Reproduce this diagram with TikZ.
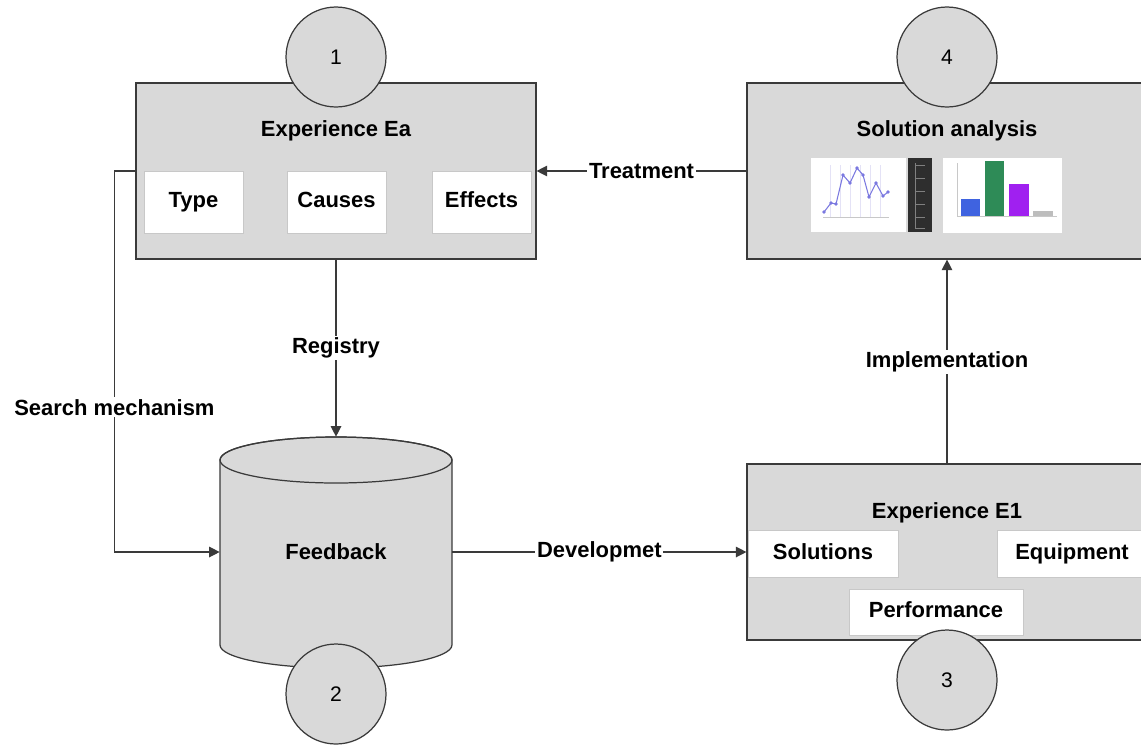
\documentclass[tikz,border=0pt]{standalone}
\usepackage{fontspec}
\setmainfont{Liberation Sans}
\usetikzlibrary{arrows.meta}
\definecolor{BoxGray}{HTML}{D9D9D9}
\definecolor{Outline}{HTML}{3A3A3A}
\definecolor{ItemEdge}{HTML}{C8C8C8}
\definecolor{PlotLine}{HTML}{7A78E0}
\definecolor{PlotGrid}{HTML}{E4E2F6}
\definecolor{Strip}{HTML}{2E2E2E}
\definecolor{BarBlue}{HTML}{3F63E0}
\definecolor{BarGreen}{HTML}{2E8B57}
\definecolor{BarPurple}{HTML}{A020F0}
\definecolor{BarGray}{HTML}{BDBDBD}

\begin{document}
\begin{tikzpicture}[
    x=0.02cm, y=-0.02cm,
    expbox/.style={rectangle, draw=Outline, fill=BoxGray, line width=0.7pt, minimum width=8cm, minimum height=3.52cm},
    itembox/.style={rectangle, draw=ItemEdge, fill=white, line width=0.3pt, text height=9pt, text depth=2.5pt, font=\fontsize{12.5}{15}\selectfont\bfseries},
    boxtitle/.style={font=\fontsize{12.5}{15}\selectfont\bfseries},
    stepnum/.style={circle, draw=Outline, fill=BoxGray, line width=0.7pt, minimum size=2cm, inner sep=0pt, font=\fontsize{12}{14}\selectfont},
    flow/.style={draw=Outline, line width=0.7pt, -{Triangle[length=6pt,width=6pt]}},
    flowlabel/.style={fill=white, inner sep=1pt, font=\fontsize{12.5}{15}\selectfont\bfseries}
]

\clip (0,0) rectangle (1141,744);
\fill[white] (0,0) rectangle (1141,744);

% stage boxes
\node[expbox] (ea) at (336,171) {};
\node[expbox] (sa) at (947,171) {};
\node[expbox] (e1) at (947,552) {};

\node[boxtitle] (eatitle) at (336,131) {Experience Ea};
\node[boxtitle] (satitle) at (947,131) {Solution analysis};
\node[boxtitle] (e1title) at (947,513) {Experience E1};

\node[itembox, minimum width=1.98cm, minimum height=1.24cm] (type) at (193.5,202) {Type};
\node[itembox, minimum width=1.98cm, minimum height=1.24cm] (causes) at (336.5,202) {Causes};
\node[itembox, minimum width=1.98cm, minimum height=1.24cm] (effects) at (481.5,202) {Effects};

\node[itembox, minimum width=3cm, minimum height=0.94cm] (solutions) at (823,553.5) {Solutions};
\node[itembox, minimum width=3cm, minimum height=0.94cm] (equipment) at (1072,553.5) {Equipment};
\node[itembox, minimum width=3.48cm, minimum height=0.92cm] (performance) at (936,612) {Performance};

% feedback store
\draw[draw=Outline, fill=BoxGray, line width=0.7pt]
    (220,460) -- (220,645) arc[start angle=180, end angle=360, x radius=2.32cm, y radius=0.46cm]
    -- (452,460) arc[start angle=0, end angle=180, x radius=2.32cm, y radius=0.46cm] -- cycle;
\draw[draw=Outline, line width=0.7pt] (336,460) ellipse [x radius=2.32cm, y radius=0.46cm];
\node[boxtitle, minimum width=4.64cm, minimum height=4.6cm] (feedback) at (336,552) {Feedback};

% charts inside the analysis box
\fill[white] (811,158) rectangle (906,232);
\foreach \gx in {830,840,850,860,870,880}
    \draw[PlotGrid, line width=0.3pt] (\gx,165) -- (\gx,217);
\draw[ItemEdge, line width=0.3pt] (823,217) -- (889,217);
\draw[PlotLine, line width=0.6pt] plot[mark=*, mark size=0.7pt, mark options={fill=PlotLine}]
    coordinates {(824,212) (831,203) (836,204) (843,175) (850,183) (857,168) (863,175) (869,197) (876,183) (883,196) (888,192)};
\fill[Strip] (908,158) rectangle (932,232);
\draw[gray, line width=0.4pt] (915,163) -- (915,228);
\foreach \ty in {165,178,191,204,217,228}
    \draw[gray, line width=0.3pt] (915,\ty) -- (925,\ty);
\fill[white] (943,158) rectangle (1062,233);
\draw[ItemEdge, line width=0.3pt] (957,163) -- (957,216) -- (1057,216);
\fill[BarBlue] (961,199) rectangle (980,216);
\fill[BarGreen] (985,161) rectangle (1004,216);
\fill[BarPurple] (1009,184) rectangle (1029,216);
\fill[BarGray] (1033,211) rectangle (1053,216);

% step numbers
\node[stepnum] (n1) at (336,57) {1};
\node[stepnum] (n2) at (336,694) {2};
\node[stepnum] (n3) at (947,680) {3};
\node[stepnum] (n4) at (947,57) {4};

% flows
\draw[flow] (sa.west) -- node[flowlabel] {Treatment} (ea.east);
\draw[flow] (ea.south) -- node[flowlabel] {Registry} (feedback.north);
\draw[flow] (ea.west) -- ++(-21,0) |- node[flowlabel, pos=0.31] {Search mechanism} (feedback.west);
\draw[flow] (feedback.east) -- node[flowlabel] {Developmet} (e1.west);
\draw[flow] (e1.north) -- node[flowlabel] {Implementation} (sa.south);

\end{tikzpicture}
\end{document}
